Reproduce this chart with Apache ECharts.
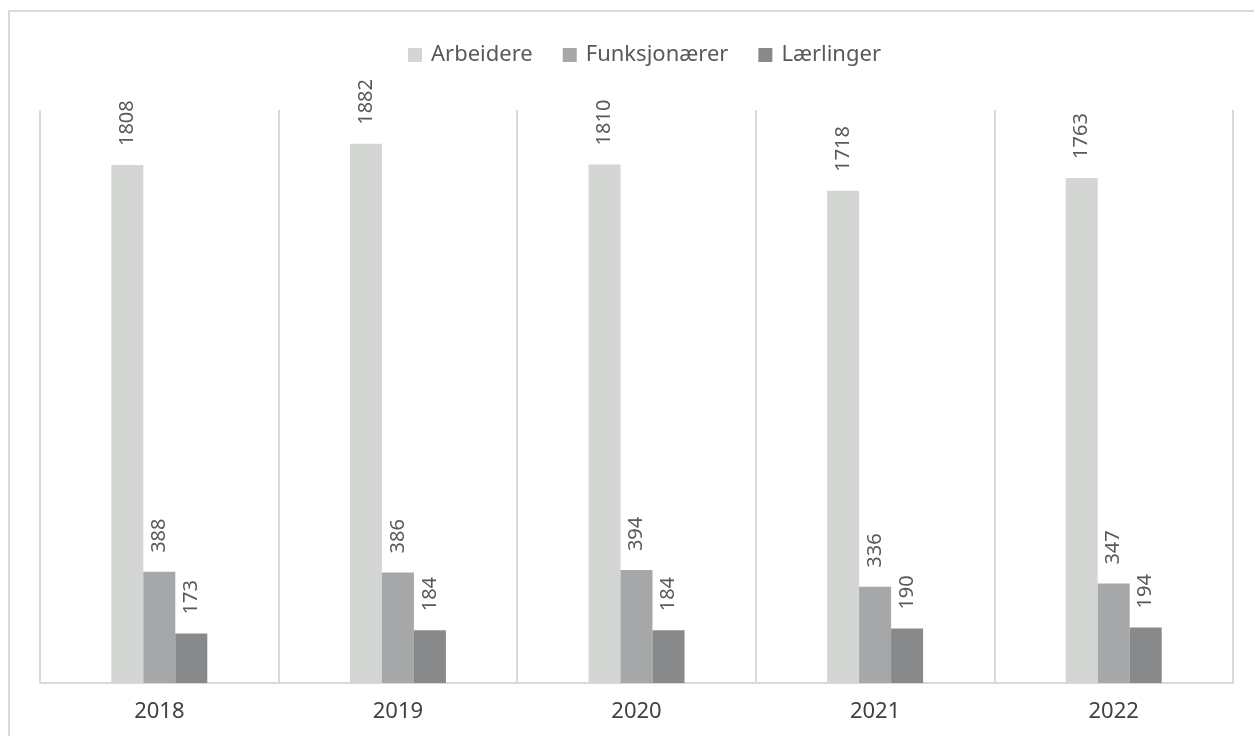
<!DOCTYPE html>
<html>
<head>
<meta charset="utf-8">
<script src="https://cdn.jsdelivr.net/npm/echarts@6/dist/echarts.min.js"></script>
<style>
  html, body { margin: 0; padding: 0; background: #fff; }
  #frame {
    position: absolute; left: 8px; top: 10px; width: 1300px; height: 800px;
    border: 2px solid #d9d9d9; box-sizing: border-box;
  }
  #chart { position: absolute; left: 0; top: 0; width: 1254px; height: 736px; }
</style>
</head>
<body>
<div id="frame"></div>
<div id="chart"></div>
<script>
// Chart data
const years = ['2018', '2019', '2020', '2021', '2022'];
const arbeidere = [1808, 1882, 1810, 1718, 1763];
const funksjonaerer = [388, 386, 394, 336, 347];
const laerlinger = [173, 184, 184, 190, 194];

const chart = echarts.init(document.getElementById('chart'));

const font = '"Noto Sans", "Open Sans", sans-serif';

// Shared label style: rotated value above each bar
function barLabel() {
  return {
    show: true,
    position: 'top',
    rotate: 90,
    align: 'left',
    verticalAlign: 'middle',
    distance: 19,
    color: '#595959',
    fontSize: 20,
    fontFamily: font
  };
}

const option = {
  animation: false,
  legend: {
    top: 39,
    left: 403,
    itemWidth: 14,
    itemHeight: 14,
    itemGap: 30,
    icon: 'rect',
    textStyle: { color: '#595959', fontSize: 22, fontFamily: font, padding: [0, 0, 0, 4] }
  },
  grid: { left: 40, right: 21, top: 110, bottom: 53 },
  xAxis: {
    type: 'category',
    data: years,
    axisLine: { lineStyle: { color: '#d9d9d9', width: 2 } },
    axisTick: { show: false },
    axisLabel: { color: '#404040', fontSize: 22, fontFamily: font, margin: 18 },
    splitLine: { show: true, lineStyle: { color: '#d9d9d9', width: 2 } }
  },
  yAxis: {
    type: 'value',
    min: 0,
    max: 2000,
    show: false,
    splitLine: { show: false }
  },
  series: [
    {
      name: 'Arbeidere',
      type: 'bar',
      data: arbeidere,
      barWidth: 32,
      barGap: '0%',
      itemStyle: { color: '#d4d6d3' },
      label: barLabel()
    },
    {
      name: 'Funksjonærer',
      type: 'bar',
      data: funksjonaerer,
      barWidth: 32,
      barGap: '0%',
      itemStyle: { color: '#a5a7a8' },
      label: barLabel()
    },
    {
      name: 'Lærlinger',
      type: 'bar',
      data: laerlinger,
      barWidth: 32,
      barGap: '0%',
      itemStyle: { color: '#87898a' },
      label: barLabel()
    }
  ]
};

chart.setOption(option);
</script>
</body>
</html>
